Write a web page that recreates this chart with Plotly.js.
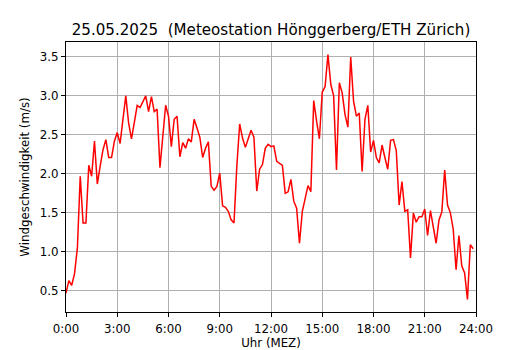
<!DOCTYPE html>
<html>
<head>
<meta charset="utf-8">
<script src="https://cdn.plot.ly/plotly-3.0.1.min.js"></script>
<style>
  html, body { margin: 0; padding: 0; background: #ffffff; }
  #chart { width: 530px; height: 350px; }
</style>
</head>
<body>
<div id="chart"></div>
<script>
// 10-minute mean wind speed (m/s), 25.05.2025, 00:00 .. 23:50
const windSpeed = [
  0.47, 0.63, 0.57, 0.72, 1.05, 1.97, 1.37, 1.37, 2.11, 1.97, 2.42, 1.87,
  2.10, 2.31, 2.44, 2.21, 2.21, 2.42, 2.53, 2.39, 2.70, 3.00, 2.65, 2.45,
  2.66, 2.88, 2.85, 2.92, 3.00, 2.80, 2.99, 2.80, 2.83, 2.08, 2.48, 2.88,
  2.74, 2.35, 2.70, 2.74, 2.22, 2.40, 2.33, 2.45, 2.41, 2.70, 2.59, 2.47,
  2.21, 2.33, 2.41, 1.84, 1.79, 1.84, 2.01, 1.59, 1.57, 1.52, 1.41, 1.37,
  2.10, 2.64, 2.46, 2.34, 2.45, 2.56, 2.47, 1.78, 2.06, 2.12, 2.33, 2.38,
  2.35, 2.36, 2.16, 2.13, 2.11, 1.75, 1.77, 1.93, 1.65, 1.56, 1.11, 1.52,
  1.68, 1.85, 1.77, 2.94, 2.68, 2.45, 3.05, 3.12, 3.53, 3.15, 3.00, 2.05,
  3.17, 3.04, 2.76, 2.60, 3.50, 2.93, 2.74, 2.78, 2.03, 2.70, 2.88, 2.28,
  2.43, 2.21, 2.14, 2.37, 2.21, 2.06, 2.43, 2.44, 2.30, 1.60, 1.90, 1.52,
  1.54, 0.92, 1.50, 1.38, 1.45, 1.45, 1.55, 1.21, 1.53, 1.29, 1.11, 1.41,
  1.51, 2.05, 1.60, 1.50, 1.29, 0.77, 1.21, 0.82, 0.73, 0.39, 1.09, 1.04
];
const sampleMinutes = 10;
const hours = windSpeed.map((_, i) => i * sampleMinutes / 60);

const xTickVals = [0, 3, 6, 9, 12, 15, 18, 21, 24];
const xTickText = ["0:00", "3:00", "6:00", "9:00", "12:00", "15:00", "18:00", "21:00", "24:00"];
const yTickVals = [0.5, 1.0, 1.5, 2.0, 2.5, 3.0, 3.5];

const titleText = "25.05.2025  (Meteostation Hönggerberg/ETH Zürich)";
const xLabel = "Uhr (MEZ)";
const yLabel = "Windgeschwindigkeit (m/s)";

const font = "DejaVu Sans, Verdana, sans-serif";

const trace = {
  x: hours,
  y: windSpeed,
  type: "scatter",
  mode: "lines",
  line: { color: "#ff0000", width: 1.5 },
  hoverinfo: "skip"
};

const axisCommon = {
  showline: true,
  linecolor: "#000000",
  linewidth: 1,
  mirror: true,
  ticks: "outside",
  ticklen: 4,
  tickwidth: 1,
  tickcolor: "#000000",
  showgrid: true,
  gridcolor: "#b0b0b0",
  gridwidth: 1,
  zeroline: false,
  tickfont: { family: font, size: 11.8, color: "#000000" }
};

const layout = {
  width: 530,
  height: 350,
  margin: { l: 66, r: 54, t: 42, b: 38, pad: 0 },
  paper_bgcolor: "#ffffff",
  plot_bgcolor: "#ffffff",
  showlegend: false,
  font: { family: font, color: "#000000" },
  title: {
    text: titleText,
    font: { family: font, size: 15.1, color: "#000000" },
    xref: "paper", x: 0.5, xanchor: "center",
    yref: "container", y: 0.915, yanchor: "middle"
  },
  xaxis: Object.assign({}, axisCommon, {
    range: [0, 24],
    tickmode: "array",
    tickvals: xTickVals,
    ticktext: xTickText,
    ticklabelstandoff: 2,
    title: { text: xLabel, font: { family: font, size: 11.8, color: "#000000" }, standoff: 3 }
  }),
  yaxis: Object.assign({}, axisCommon, {
    range: [0.228, 3.692],
    tickmode: "array",
    tickvals: yTickVals,
    tickformat: ".1f",
    title: { text: yLabel, font: { family: font, size: 11.8, color: "#000000" }, standoff: 7 }
  })
};

Plotly.newPlot("chart", [trace], layout, { displayModeBar: false, staticPlot: true });
</script>
</body>
</html>
